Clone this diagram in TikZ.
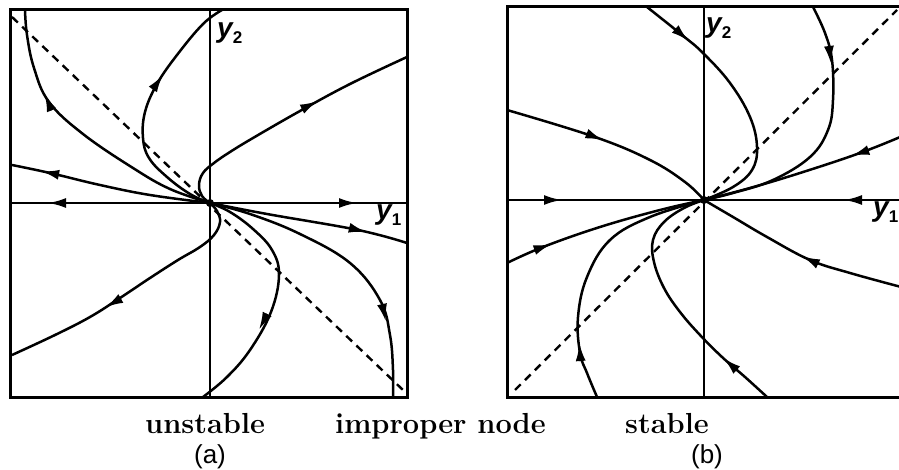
\documentclass[tikz,border=0pt]{standalone}
\usepackage{fontspec}
\newfontfamily\labfont{Liberation Sans}
\usetikzlibrary{arrows.meta,calc}
\tikzset{
  curve/.style={line width=2.5pt, line join=round},
  frame/.style={line width=3pt},
  axis/.style={line width=2.5pt},
  diag/.style={line width=2.4pt, dash pattern=on 8pt off 6pt},
  tipst/.style={line width=2.5pt, -{Latex[length=18pt,width=10pt]}},
  caption/.style={inner sep=0pt, anchor=base west, font=\fontsize{29}{34}\selectfont\bfseries},
  panel/.style={inner sep=0pt, anchor=base, font=\labfont\fontsize{26}{30}\selectfont},
  axlab/.style={inner sep=0pt, anchor=base west, font=\labfont\bfseries\itshape\fontsize{28}{32}\selectfont},
  sm/.style={smooth, tension=0.65}
}
\newcommand\tipat[2]{\draw[tipst] ($#1!-9pt!#2$) -- ($#1!9pt!#2$);}
\newcommand\subl[1]{\raisebox{-6pt}{\upshape\fontsize{17}{17}\selectfont #1}}
\begin{document}
\begin{tikzpicture}[x=1pt,y=-1pt]
\fill[white] (0,0) rectangle (899,470);
\useasboundingbox (0,0) rectangle (899,470);
\begin{scope}
\clip (0,0) rectangle (899,470);
% ---------------- panel (a) ----------------
\coordinate (A) at (210,203);
\draw[frame] (10,10) rectangle (407,397);
\draw[axis] (210,10) -- (210,397);
\draw[axis] (10,203) -- (407,203);
\draw[diag] (12,17) -- (403,390);
% curves
\draw[curve] plot[sm] coordinates {(12,165) (50,173) (100,185) (150,195) (210,203)};
\draw[curve] plot[sm] coordinates {(210,203) (267,214) (358,230) (407,243)};
\draw[curve] plot[sm] coordinates {(210,203) (170,189) (133,168) (83,134) (49,102) (34,68) (27,35) (25,10)};
\draw[curve] plot[sm] coordinates {(210,203) (250,214) (300,234) (350,263) (380,300) (390,335) (393,370) (393,397)};
\draw[curve] plot[sm] coordinates {(210,203) (190,194) (167,177) (149,158) (143,138) (145,112) (157,84) (177,55) (203,24) (222,10)};
\draw[curve] plot[sm] coordinates {(210,203) (230,212) (253,229) (272,250) (279,275) (271,312) (250,350) (227,377) (203,397)};
\draw[curve] plot[sm] coordinates {(210,203) (202,196) (199,185) (203,173) (214,163) (230,152) (253,138) (300,111) (350,84) (407,57)};
\draw[curve] plot[sm] coordinates {(210,203) (217,211) (220,222) (214,235) (200,247) (178,260) (150,278) (120,298) (90,317) (55,335) (12,355)};
\fill (A) circle (4pt);
% arrows
\tipat{(57,203)}{(30,203)}
\tipat{(348,203)}{(380,203)}
\tipat{(50,173)}{(25,168)}
\tipat{(358,230)}{(390,238)}
\tipat{(48,102)}{(36,74)}
\tipat{(384,313)}{(390,340)}
\tipat{(158,82)}{(174,59)}
\tipat{(263,322)}{(250,347)}
\tipat{(310,105)}{(345,87)}
\tipat{(113,303)}{(80,322)}
% labels
\node[axlab] (y2a) at (217,38) {y\subl{2}};
\node[axlab] (y1a) at (376,220) {y\subl{1}};
% ---------------- panel (b) ----------------
\coordinate (B) at (704,200);
\draw[frame] (507,7) rectangle (910,397);
\draw[axis] (704,7) -- (704,397);
\draw[axis] (507,200) -- (910,200);
\draw[diag] (515,390) -- (897,10);
\draw[curve] plot[sm] coordinates {(507,110) (595,137) (650,160) (685,182) (704,200)};
\draw[curve] plot[sm] coordinates {(647,7) (682,35) (703,53) (730,83) (750,117) (757,147) (752,170) (733,187) (704,200)};
\draw[curve] plot[sm] coordinates {(813,7) (825,33) (832,60) (833,100) (828,130) (810,157) (773,180) (733,193) (704,200)};
\draw[curve] plot[sm] coordinates {(905,135) (860,153) (800,173) (750,188) (704,200)};
\draw[curve] plot[sm] coordinates {(507,263) (543,247) (600,227) (660,210) (704,200)};
\draw[curve] plot[sm] coordinates {(597,397) (587,373) (580,353) (578,317) (587,277) (610,240) (650,217) (704,200)};
\draw[curve] plot[sm] coordinates {(767,397) (745,377) (722,357) (700,335) (680,312) (664,288) (654,262) (653,240) (664,222) (684,208) (704,200)};
\draw[curve] plot[sm] coordinates {(905,288) (850,273) (810,260) (767,237) (733,217) (704,200)};
\fill (B) circle (4pt);
\tipat{(553,200)}{(580,200)}
\tipat{(853,200)}{(825,200)}
\tipat{(595,137)}{(625,149)}
\tipat{(682,35)}{(700,51)}
\tipat{(830,55)}{(833,80)}
\tipat{(860,153)}{(830,163)}
\tipat{(543,247)}{(572,237)}
\tipat{(580,352)}{(578,325)}
\tipat{(730,364)}{(710,346)}
\tipat{(810,260)}{(785,248)}
\node[axlab] (y2b) at (706,33) {y\subl{2}};
\node[axlab] (y1b) at (873,217) {y\subl{1}};
\end{scope}
% ---------------- captions ----------------
\node[caption] (uns) at (145,433) {unstable};
\node[caption] (imp) at (335,433) {improper node};
\node[caption] (stb) at (625,433) {stable};
\node[panel] (pa) at (210,463) {(a)};
\node[panel] (pb) at (707,463) {(b)};
\end{tikzpicture}
\end{document}
